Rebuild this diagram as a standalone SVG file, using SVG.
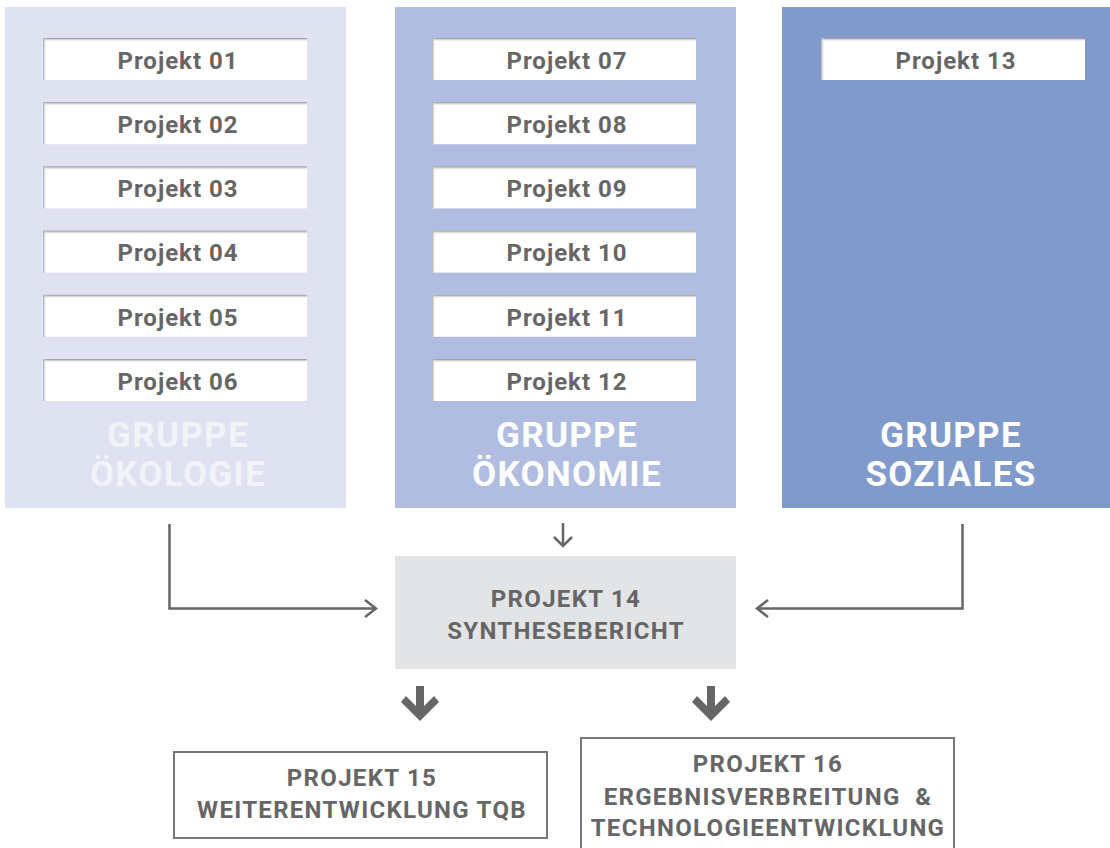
<svg xmlns="http://www.w3.org/2000/svg" width="1110" height="848" viewBox="0 0 1110 848">
<defs>
<linearGradient id="shT" x1="0" y1="0" x2="0" y2="1">
<stop offset="0" stop-color="#8a8a8a"/><stop offset="1" stop-color="#ffffff" stop-opacity="0"/>
</linearGradient>
<linearGradient id="shL" x1="0" y1="0" x2="1" y2="0">
<stop offset="0" stop-color="#a8a8a8"/><stop offset="1" stop-color="#ffffff" stop-opacity="0"/>
</linearGradient>
<g id="pbox">
<rect x="0" y="0" width="264" height="42" fill="#ffffff"/>
<rect x="0" y="0" width="264" height="4" fill="url(#shT)"/>
<rect x="0" y="0" width="4" height="42" fill="url(#shL)"/>
</g>
<path id="thick" d="M-4,0 H4 V20 L14,10 L19,16 L0,35 L-19,16 L-14,10 L-4,20 Z" fill="#666666"/>
</defs>
<style>
.pt{font-family:Roboto,"Liberation Sans",sans-serif;font-weight:bold;font-size:24px;letter-spacing:1px;fill:#666666;text-anchor:middle}
.gt{font-family:Roboto,"Liberation Sans",sans-serif;font-weight:bold;font-size:35px;letter-spacing:1.3px;text-anchor:middle}
.bt{font-family:Roboto,"Liberation Sans",sans-serif;font-weight:bold;font-size:24px;letter-spacing:1.3px;fill:#666666;text-anchor:middle}
.con{fill:none;stroke:#666666;stroke-width:2.5}
</style>
<rect width="1110" height="848" fill="#ffffff"/>

<g id="gruppe-oekologie">
<rect x="5" y="7" width="341" height="501" fill="#dfe2f1"/>
<use href="#pbox" x="43" y="38"/><text class="pt" x="178" y="69">Projekt 01</text>
<use href="#pbox" x="43" y="102.2"/><text class="pt" x="178" y="133">Projekt 02</text>
<use href="#pbox" x="43" y="166.4"/><text class="pt" x="178" y="197">Projekt 03</text>
<use href="#pbox" x="43" y="230.6"/><text class="pt" x="178" y="261">Projekt 04</text>
<use href="#pbox" x="43" y="294.8"/><text class="pt" x="178" y="326">Projekt 05</text>
<use href="#pbox" x="43" y="359"/><text class="pt" x="178" y="390">Projekt 06</text>
<text class="gt" x="178" y="447" fill="#f2f3f9">GRUPPE</text>
<text class="gt" x="178" y="486" fill="#f2f3f9">ÖKOLOGIE</text>
</g>

<g id="gruppe-oekonomie">
<rect x="395" y="7" width="341" height="501" fill="#b0bde0"/>
<use href="#pbox" x="432" y="38"/><text class="pt" x="567" y="69">Projekt 07</text>
<use href="#pbox" x="432" y="102.2"/><text class="pt" x="567" y="133">Projekt 08</text>
<use href="#pbox" x="432" y="166.4"/><text class="pt" x="567" y="197">Projekt 09</text>
<use href="#pbox" x="432" y="230.6"/><text class="pt" x="567" y="261">Projekt 10</text>
<use href="#pbox" x="432" y="294.8"/><text class="pt" x="567" y="326">Projekt 11</text>
<use href="#pbox" x="432" y="359"/><text class="pt" x="567" y="390">Projekt 12</text>
<text class="gt" x="567" y="447" fill="#ffffff">GRUPPE</text>
<text class="gt" x="567" y="486" fill="#ffffff">ÖKONOMIE</text>
</g>

<g id="gruppe-soziales">
<rect x="782" y="7" width="328" height="501" fill="#7f9acb"/>
<use href="#pbox" x="821" y="38"/><text class="pt" x="956" y="69">Projekt 13</text>
<text class="gt" x="951" y="447" fill="#ffffff">GRUPPE</text>
<text class="gt" x="951" y="486" fill="#ffffff">SOZIALES</text>
</g>

<g id="projekt14">
<rect x="395" y="556" width="341" height="113" fill="#e3e4e6"/>
<text class="bt" x="566" y="607">PROJEKT 14</text>
<text class="bt" x="566" y="639">SYNTHESEBERICHT</text>
</g>

<g id="projekt15">
<rect x="174" y="752" width="373" height="86" fill="#ffffff" stroke="#777777" stroke-width="2"/>
<text class="bt" x="362" y="786">PROJEKT 15</text>
<text class="bt" x="362" y="818">WEITERENTWICKLUNG TQB</text>
</g>

<g id="projekt16">
<rect x="581" y="738" width="373" height="120" fill="#ffffff" stroke="#777777" stroke-width="2"/>
<text class="bt" x="768" y="772">PROJEKT 16</text>
<text class="bt" x="768" y="805" xml:space="preserve">ERGEBNISVERBREITUNG  &amp;</text>
<text class="bt" x="768" y="836">TECHNOLOGIEENTWICKLUNG</text>
</g>

<g id="connectors">
<path class="con" d="M169.5,524 V608.5 H376"/>
<path class="con" d="M365,600 L376,608.5 L365,617"/>
<path class="con" d="M962.5,524 V608.5 H757"/>
<path class="con" d="M768,600 L757,608.5 L768,617"/>
<path class="con" d="M563,523 V546" stroke-width="1.8"/>
<path class="con" d="M554,537 L563,546 L572,537" stroke-width="1.8"/>
<use href="#thick" x="420" y="686"/>
<use href="#thick" x="711" y="686"/>
</g>
</svg>
